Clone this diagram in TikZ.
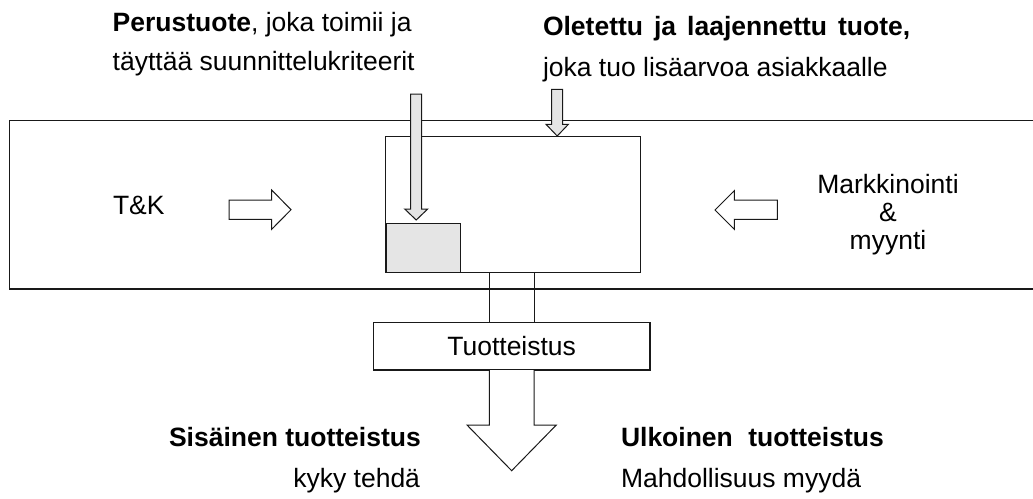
\documentclass[tikz,border=0pt]{standalone}
\usepackage{fontspec}
\setmainfont{Liberation Sans}
\begin{document}
\begin{tikzpicture}[x=1pt,y=-1pt,
  frame/.style={draw=black!90, line width=1.3pt, inner sep=0pt, outer sep=0pt, anchor=north west},
  blk/.style={draw=black!90, line width=1pt, line join=miter},
  txt/.style={inner sep=0pt, outer sep=0pt, font=\fontsize{26.5}{30}\selectfont}]
\useasboundingbox (0,0) rectangle (1033,498);
\clip (0,0) rectangle (1033,498);
% frames
\node[frame, minimum width=1050pt, minimum height=168.3pt] (big) at (9.7,120.7) {};
\node[frame, fill=white, minimum width=255.4pt, minimum height=136pt] (inner) at (385.3,136.7) {};
\node[frame, fill=gray!20, minimum width=74pt, minimum height=48.7pt] (gray) at (386.5,223.5) {};
\node[frame, minimum width=276.7pt, minimum height=47.3pt, txt, anchor=north west] (tuot) at (373.3,322.7) {Tuotteistus};
% channel
\draw[blk] ([xshift=-22.35pt]tuot.north) -- ([xshift=-22.35pt]tuot.north |- inner.south);
\draw[blk] ([xshift=22.35pt]tuot.north) -- ([xshift=22.35pt]tuot.north |- inner.south);
\draw[blk, fill=white] ([xshift=-22.35pt]tuot.south) -- ++(0,55) -- ++(-22.3,0) -- ++(44.65,45.7)
  -- ++(44.65,-45.7) -- ++(-22.3,0) -- ([xshift=22.35pt]tuot.south);
% vertical arrows
\draw[blk, fill=gray!20] (410.7,94) -- (410.7,209) -- (404.7,209) -- (416.2,220) -- (427.7,209) -- (421.7,209) -- (421.7,94) -- cycle;
\draw[blk, fill=gray!20] (551.7,89.3) -- (551.7,124.3) -- (546,124.3) -- (557.2,136) -- (568.4,124.3) -- (562.7,124.3) -- (562.7,89.3) -- cycle;
% horizontal arrows
\draw[blk, fill=white] (229,200) -- (271.7,200) -- (271.7,190) -- (291,209.7) -- (271.7,229.3) -- (271.7,219.3) -- (229,219.3) -- cycle;
\draw[blk, fill=white] (777.3,200) -- (734.3,200) -- (734.3,190.7) -- (715,210) -- (734.3,229.3) -- (734.3,219.3) -- (777.3,219.3) -- cycle;
% texts
\node[txt, anchor=base west] (t1) at (112.7,31.5) {\textbf{Perustuote}, joka toimii ja};
\node[txt, anchor=base west] (t2) at (112.7,70) {täyttää suunnittelukriteerit};
\node[txt, anchor=base west] (t3) at (543,35) {\textbf{Oletettu\hspace{11pt}ja\hspace{11pt}laajennettu\hspace{11pt}tuote,}};
\node[txt, anchor=base west] (t4) at (543,76) {joka tuo lisäarvoa asiakkaalle};
\node[txt, anchor=base west] (tk) at (113,214) {T\&K};
\node[txt, anchor=base] (m1) at (888,193) {Markkinointi};
\node[txt, anchor=base] (m2) at (888,221) {\&};
\node[txt, anchor=base] (m3) at (888,249) {myynti};
\node[txt, anchor=base west] (s1) at (169,446) {\textbf{Sisäinen tuotteistus}};
\node[txt, anchor=base east] (s2) at (420,487) {kyky tehdä};
\node[txt, anchor=base west] (u1) at (621,446) {\textbf{Ulkoinen\hspace{15.4pt}tuotteistus}};
\node[txt, anchor=base west] (u2) at (621,487) {Mahdollisuus myydä};
\end{tikzpicture}
\end{document}
